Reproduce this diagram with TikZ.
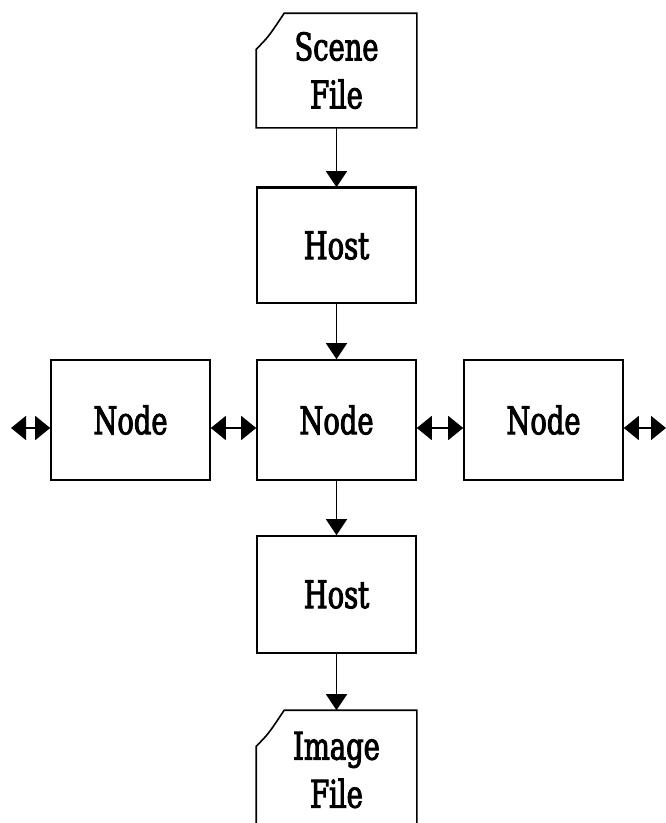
\documentclass[tikz,border=0pt]{standalone}
\usepackage{fontspec}
\setmainfont{DejaVu Serif Condensed}[FakeStretch=0.8,FakeBold=2.5]
\usetikzlibrary{arrows.meta}
\begin{document}
\begin{tikzpicture}[x=1pt,y=-1pt,
  box/.style={draw=black,line width=1.6pt,minimum width=159pt,inner sep=0pt,font=\fontsize{38}{48}\selectfont,align=center},
  filebox/.style={box,draw=none},
  flow/.style={line width=1.6pt,-{Triangle[width=21pt,length=16pt]}},
  link/.style={line width=1.6pt,{Triangle[width=24pt,length=15pt]}-{Triangle[width=24pt,length=15pt]}}]
\useasboundingbox[fill=white] (0,0) rectangle (666,823);
% nodes
\node[filebox,minimum height=113pt] (scene) at (336.5,70.5) {Scene\\File};
\node[box,minimum height=115pt] (host1) at (336.5,245.5) {Host};
\node[box,minimum height=120pt] (nodeM) at (336.5,420) {Node};
\node[box,minimum height=120pt] (nodeL) at (130.5,420) {Node};
\node[box,minimum height=120pt] (nodeR) at (543.5,420) {Node};
\node[box,minimum height=117pt] (host2) at (336.5,594.5) {Host};
\node[filebox,minimum height=118pt] (image) at (336.5,770) {Image\\File};
% file outlines with cut corner
\draw[line width=1.6pt] ([yshift=-36pt]scene.north west) .. controls ([xshift=12pt,yshift=-24pt]scene.north west) .. ([xshift=28pt]scene.north west) -- (scene.north east) -- (scene.south east) -- (scene.south west) -- cycle;
\draw[line width=1.6pt] (image.south west) -- ([yshift=-36pt]image.north west) .. controls ([xshift=12pt,yshift=-24pt]image.north west) .. ([xshift=28pt]image.north west) -- (image.north east) -- (image.south east);
% thicker top of first host
\draw[line width=3.2pt] (host1.north west) -- (host1.north east);
% flow arrows
\draw[flow] (scene) -- (host1);
\draw[flow] (host1) -- (nodeM);
\draw[flow] (nodeM) -- (host2);
\draw[flow] (host2) -- (image);
% links
\coordinate (row) at (0,428);
\coordinate (lend) at (11,428);
\coordinate (rend) at (666,428);
\draw[link] (lend) -- (nodeL.west |- row);
\draw[link] (nodeL.east |- row) -- (nodeM.west |- row);
\draw[link] (nodeM.east |- row) -- (nodeR.west |- row);
\draw[link] (nodeR.east |- row) -- (rend);
\end{tikzpicture}
\end{document}
